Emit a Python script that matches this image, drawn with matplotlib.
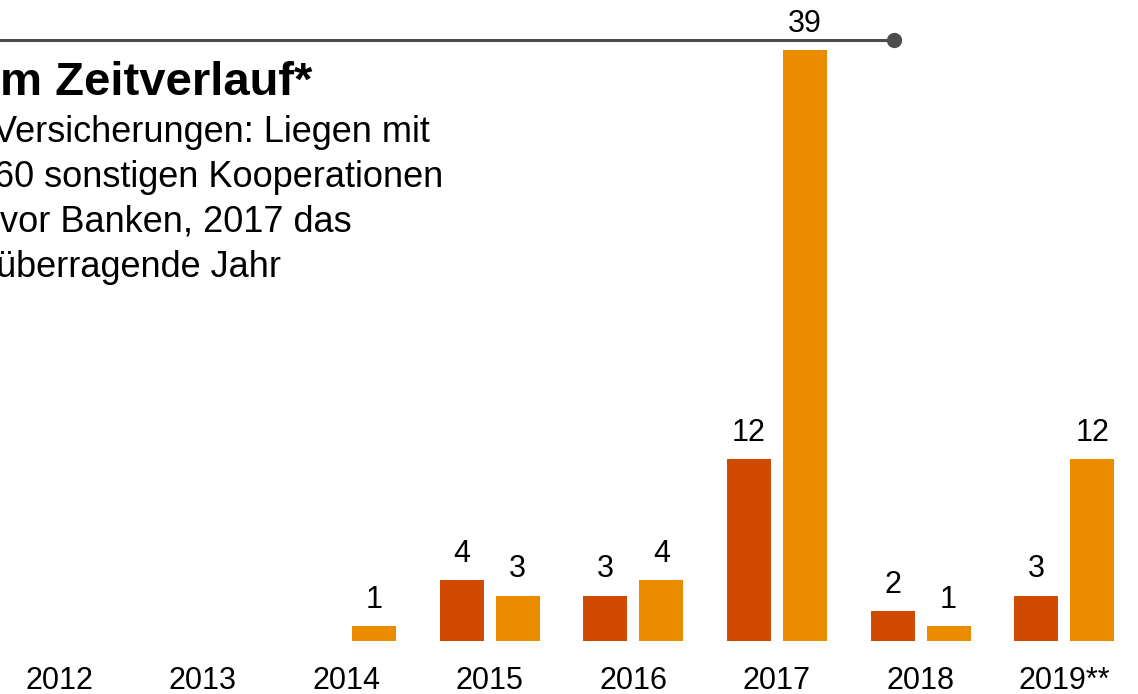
import numpy as np
import matplotlib.pyplot as plt
from matplotlib.lines import Line2D

plt.rcParams['font.family'] = ['Liberation Sans', 'DejaVu Sans']

years = ['2012', '2013', '2014', '2015', '2016', '2017', '2018', '2019**']
banken = [0, 0, 0, 4, 3, 12, 2, 3]
versicherungen = [0, 0, 1, 3, 4, 39, 1, 12]

col_banken = '#D04A02'
col_vers = '#EB8C00'

W, H = 1138, 694
fig = plt.figure(figsize=(W / 100, H / 100), dpi=100)

# axes placed so groups are ~143.6 px apart and the baseline sits at y=641 px
step = 143.6
left_px = 59 - 0.5 * step
base_px = H - 641
unit_px = 15.15
ax = fig.add_axes([left_px / W, base_px / H, 8 * step / W, 40 * unit_px / H])
ax.set_xlim(-0.5, 7.5)
ax.set_ylim(0, 40)

x = np.arange(len(years))
bw = 44 / step
off = 28 / step
b1 = ax.bar(x - off, banken, bw, color=col_banken)
b2 = ax.bar(x + off, versicherungen, bw, color=col_vers)

for bars, vals in [(b1, banken), (b2, versicherungen)]:
    for rect, v in zip(bars, vals):
        if v == 0:
            continue
        ax.annotate(str(v), (rect.get_x() + rect.get_width() / 2, v),
                    xytext=(0, 13), textcoords='offset points',
                    ha='center', va='baseline', fontsize=22, color='black',
                    annotation_clip=False)

ax.set_xticks(x)
ax.set_xticklabels(years, fontsize=22)
ax.tick_params(axis='x', length=0, pad=18)
ax.set_yticks([])
for s in ax.spines.values():
    s.set_visible(False)
ax.patch.set_visible(False)

# top rule with end dot
line_y = 1 - 40 / H
fig.add_artist(Line2D([0, 894 / W], [line_y, line_y], transform=fig.transFigure,
                      color='#4d4d4d', linewidth=2.2))
fig.add_artist(Line2D([894 / W], [line_y], transform=fig.transFigure,
                      marker='o', markersize=10, color='#4d4d4d'))

# title and subtitle (cut at the left edge as in the original)
fig.text(0 / W, 1 - 95 / H, 'm Zeitverlauf*', fontsize=34, fontweight='bold',
         ha='left', va='baseline')
sub = [('Versicherungen: Liegen mit', -7, 142),
       ('60 sonstigen Kooperationen', -6, 187),
       ('vor Banken, 2017 das', 0, 232),
       ('überragende Jahr', -4, 277)]
for txt, xp, yp in sub:
    fig.text(xp / W, 1 - yp / H, txt, fontsize=26, ha='left', va='baseline')

fig.savefig('out.png', dpi=100)
